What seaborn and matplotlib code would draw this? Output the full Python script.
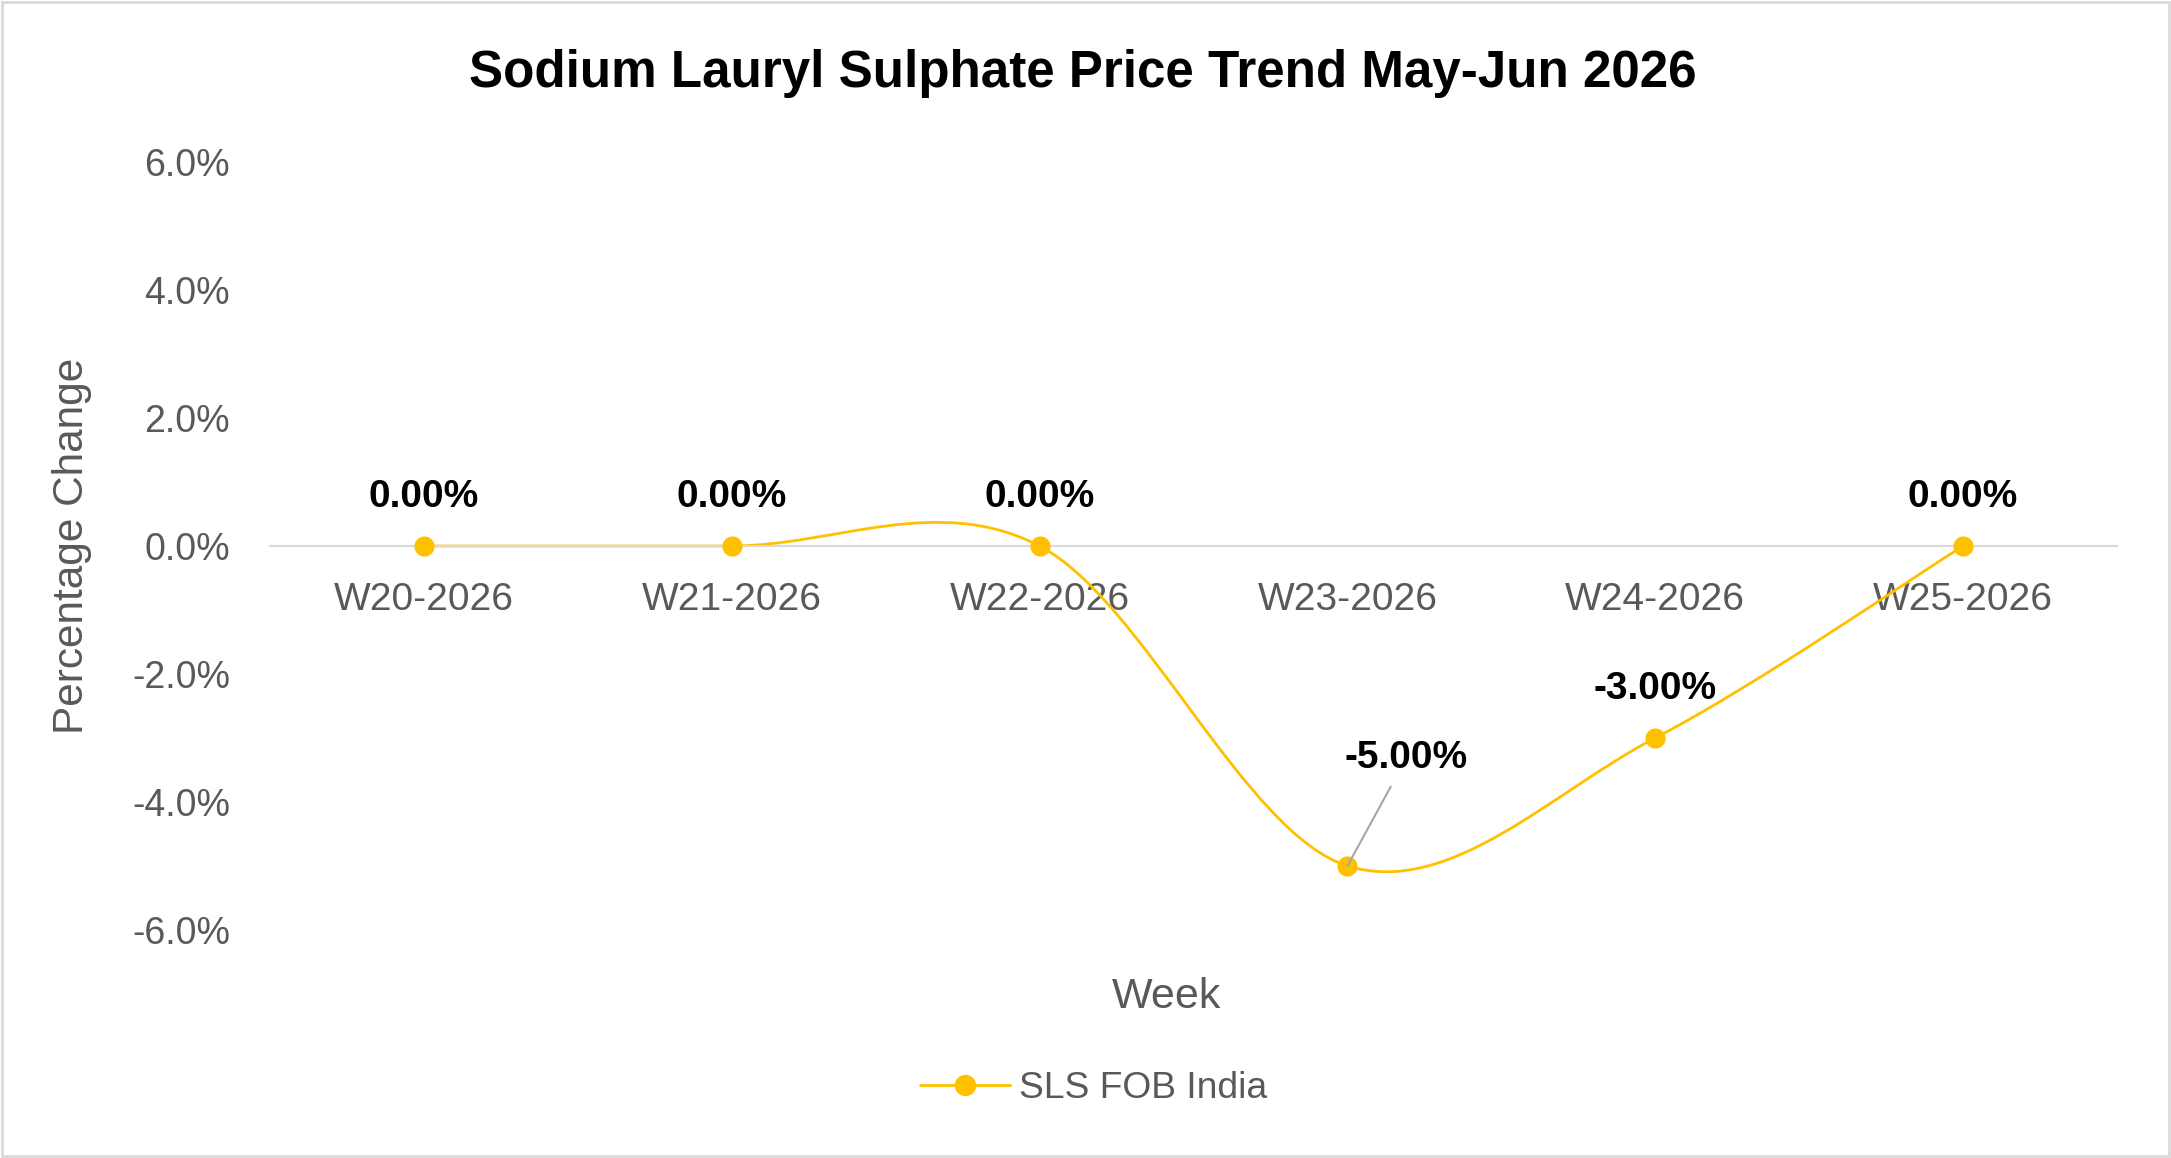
import numpy as np
import pandas as pd
import matplotlib
matplotlib.use('Agg')
from matplotlib import pyplot as plt
from matplotlib.path import Path
from matplotlib.patches import PathPatch, Rectangle
from matplotlib.lines import Line2D
import seaborn as sns

# data
weeks = ['W20-2026', 'W21-2026', 'W22-2026', 'W23-2026', 'W24-2026', 'W25-2026']
pct_change = [0.0, 0.0, 0.0, -5.0, -3.0, 0.0]
series_name = 'SLS FOB India'
y_ticks = [-6, -4, -2, 0, 2, 4, 6]

gold = '#FFC000'
grey_txt = '#595959'

sns.set_theme(style='white')
plt.rcParams['font.family'] = ['Liberation Sans', 'DejaVu Sans']

df = pd.DataFrame({'week': weeks, 'pct': pct_change})

fig = plt.figure(figsize=(21.71, 11.58), dpi=100)
ax = fig.add_axes([0.1244, 0.197, 0.8507, 0.663])

# smoothed line (excel style bezier through the points)
pts = np.column_stack([np.arange(len(df)), df['pct'].values])
verts = [pts[0]]
codes = [Path.MOVETO]
for i in range(len(pts) - 1):
    p0 = pts[max(i - 1, 0)]
    p1 = pts[i]
    p2 = pts[i + 1]
    p3 = pts[min(i + 2, len(pts) - 1)]
    verts += [p1 + (p2 - p0) / 6, p2 - (p3 - p1) / 6, p2]
    codes += [Path.CURVE4] * 3
ax.add_patch(PathPatch(Path(verts, codes), facecolor='none', edgecolor=gold,
                       lw=2.0, zorder=2))

# markers
sns.scatterplot(data=df, x='week', y='pct', ax=ax, s=210, color=gold,
                edgecolor=gold, linewidth=0, zorder=3, legend=False)

ax.set_xlim(-0.5, len(weeks) - 0.5)
ax.set_ylim(-6, 6)
ax.set_yticks(y_ticks)
ax.set_yticklabels([f'{t:.1f}%' for t in y_ticks])

for s in ['top', 'right', 'left']:
    ax.spines[s].set_visible(False)
ax.spines['bottom'].set_position(('data', 0))
ax.spines['bottom'].set_color('#D9D9D9')
ax.spines['bottom'].set_linewidth(1.5)

ax.tick_params(axis='both', length=0, labelsize=27, colors=grey_txt)
ax.tick_params(axis='y', pad=28.8)
ax.tick_params(axis='x', pad=26, labelsize=28)

ax.set_xlabel('')
ax.set_ylabel('Percentage Change', fontsize=30.5, color=grey_txt)
ax.yaxis.set_label_coords(-0.0964, 0.5)

# data labels
for i, v in enumerate(pct_change):
    if i == 3:
        ax.annotate(f'{v:.2f}%', xy=(i, v), xytext=(42.5, 70.5),
                    textcoords='offset points', ha='center', va='baseline',
                    fontsize=28, fontweight='bold', color='black',
                    arrowprops=dict(arrowstyle='-', color='#A6A6A6', lw=1.5,
                                    shrinkA=6, shrinkB=0))
    else:
        ax.annotate(f'{v:.2f}%', xy=(i, v), xytext=(0, 28),
                    textcoords='offset points', ha='center', va='baseline',
                    fontsize=28, fontweight='bold', color='black')

fig.text(0.4988, 0.9249, 'Sodium Lauryl Sulphate Price Trend May-Jun 2026',
         ha='center', va='baseline', fontsize=36.8, fontweight='bold', color='black')
fig.text(0.5375, 0.1295, 'Week', ha='center', va='baseline', fontsize=31,
         color=grey_txt)

handle = Line2D([0], [0], color=gold, lw=2.0, marker='o', markersize=14.4)
fig.legend(handles=[handle], labels=[series_name], loc='center',
           bbox_to_anchor=(1094 / 2171, 1 - 1089 / 1158), frameon=False,
           fontsize=26.8, handlelength=2.4, handletextpad=0.26,
           labelcolor=grey_txt)

fig.add_artist(Rectangle((0.001, 0.0015), 0.998, 0.997, transform=fig.transFigure,
                         fill=False, edgecolor='#D9D9D9', lw=2))

fig.savefig('out.png', dpi=100)
